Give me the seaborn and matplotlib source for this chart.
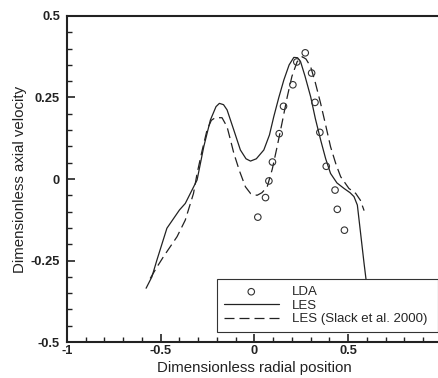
import numpy as np
import pandas as pd
import seaborn as sns
import matplotlib.pyplot as plt
from matplotlib.ticker import MultipleLocator

# LDA measurements (open circles)
lda_x = [0.018, 0.059, 0.077, 0.096, 0.132, 0.155, 0.205, 0.226, 0.271,
         0.305, 0.323, 0.349, 0.383, 0.430, 0.442, 0.480]
lda_y = [-0.117, -0.057, -0.006, 0.052, 0.139, 0.223, 0.289, 0.359, 0.387,
         0.325, 0.235, 0.143, 0.039, -0.034, -0.093, -0.157]

# LES (solid)
les_x = [-0.578, -0.547, -0.520, -0.467, -0.400, -0.369, -0.306, -0.270, -0.235,
         -0.205, -0.187, -0.165, -0.146, -0.110, -0.075, -0.045, -0.021, 0.010,
         0.050, 0.080, 0.103, 0.130, 0.157, 0.185, 0.210, 0.230, 0.246, 0.270,
         0.300, 0.325, 0.353, 0.380, 0.406, 0.440, 0.478, 0.510, 0.531, 0.549,
         0.585, 0.600]
les_y = [-0.335, -0.300, -0.248, -0.151, -0.095, -0.075, -0.003, 0.100, 0.181,
         0.222, 0.232, 0.228, 0.212, 0.150, 0.089, 0.062, 0.055, 0.062,
         0.089, 0.135, 0.191, 0.250, 0.304, 0.350, 0.373, 0.372, 0.360, 0.315,
         0.252, 0.185, 0.120, 0.062, 0.017, -0.012, -0.029, -0.042, -0.054, -0.080,
         -0.260, -0.330]

# LES (Slack et al. 2000) (dashed)
slack_x = [-0.556, -0.520, -0.485, -0.413, -0.369, -0.325, -0.306, -0.280,
           -0.253, -0.230, -0.209, -0.173, -0.146, -0.128, -0.110, -0.080,
           -0.048, -0.020, 0.014, 0.040, 0.068, 0.095, 0.121, 0.150, 0.175,
           0.200, 0.228, 0.255, 0.275, 0.300, 0.325, 0.353, 0.380, 0.406,
           0.435, 0.460, 0.504, 0.540, 0.565, 0.585]
slack_y = [-0.305, -0.270, -0.238, -0.177, -0.126, -0.044, 0.017, 0.085,
           0.150, 0.180, 0.188, 0.188, 0.160, 0.120, 0.079, 0.025,
           -0.024, -0.045, -0.050, -0.042, -0.024, 0.030, 0.099, 0.180, 0.252,
           0.315, 0.360, 0.375, 0.368, 0.344, 0.295, 0.232, 0.165, 0.099,
           0.045, 0.007, -0.029, -0.044, -0.065, -0.097]

sns.set_style('ticks')
plt.rcParams['font.family'] = ['Liberation Sans', 'DejaVu Sans']

fig = plt.figure(figsize=(4.39, 3.78), dpi=100)
ax = fig.add_axes([0.1526, 0.0952, 0.854, 0.8625])

lda = pd.DataFrame({'x': lda_x, 'y': lda_y})
les = pd.DataFrame({'x': les_x, 'y': les_y})
slack = pd.DataFrame({'x': slack_x, 'y': slack_y})

sns.scatterplot(data=lda, x='x', y='y', ax=ax, marker='o', s=22,
                facecolor='none', edgecolor='#333333', linewidth=0.8,
                label='LDA', zorder=3)
sns.lineplot(data=les, x='x', y='y', ax=ax, sort=False, color='#222222',
             linewidth=0.9, label='LES')
sns.lineplot(data=slack, x='x', y='y', ax=ax, sort=False, color='#222222',
             linewidth=0.9, label='LES (Slack et al. 2000)')
ax.lines[-1].set_dashes((8, 4))

ax.set_xlim(-1, 1)
ax.set_ylim(-0.5, 0.5)
ax.xaxis.set_minor_locator(MultipleLocator(0.1))
ax.yaxis.set_minor_locator(MultipleLocator(0.05))
ax.set_xticks([-1, -0.5, 0, 0.5])
ax.set_xticklabels(['-1', '-0.5', '0', '0.5'])
ax.set_yticks([-0.5, -0.25, 0, 0.25, 0.5])
ax.set_yticklabels(['-0.5', '-0.25', '0', '0.25', '0.5'])
ax.tick_params(which='major', direction='in', length=6, width=1.2,
               labelsize=9.3, colors='#222222')
ax.tick_params(axis='y', which='major', pad=5)
ax.tick_params(axis='x', which='major', pad=2)
ax.tick_params(which='minor', direction='in', length=3.5, width=1.0,
               colors='#222222')
for lbl in ax.get_xticklabels() + ax.get_yticklabels():
    lbl.set_fontweight('bold')
    lbl.set_color('#222222')

for side in ['left', 'bottom', 'top', 'right']:
    ax.spines[side].set_linewidth(1.5)
    ax.spines[side].set_color('#222222')
    ax.spines[side].set_visible(True)

ax.set_xlabel('Dimensionless radial position', fontsize=10.8, color='#222222', labelpad=3)
ax.set_ylabel('Dimensionless axial velocity', fontsize=10.8, color='#222222', labelpad=3)

leg = ax.legend(loc='lower left', bbox_to_anchor=(0.4, 0.031, 0.589, 0.196),
                mode='expand', fontsize=9.5, frameon=True, fancybox=False,
                edgecolor='#333333', framealpha=1, handlelength=4.2,
                handletextpad=1.0, borderpad=0.5, labelspacing=0.1,
                borderaxespad=0)
leg.get_frame().set_linewidth(0.8)
leg.set_zorder(5)

fig.savefig('out.png', dpi=100)
